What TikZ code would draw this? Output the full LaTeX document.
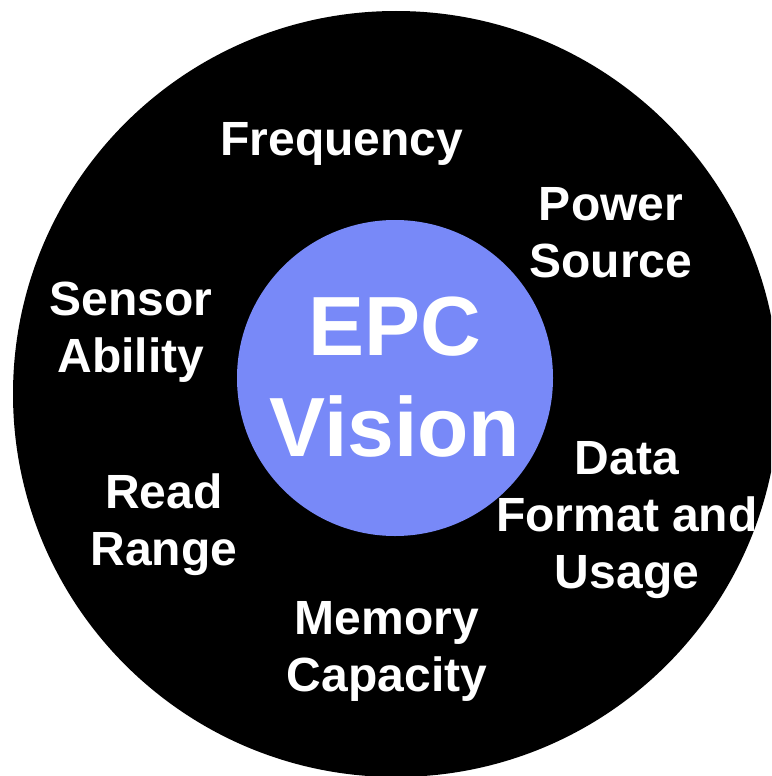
\documentclass[tikz,border=0pt]{standalone}
\usepackage{fontspec}
\setmainfont{Liberation Sans}
\definecolor{epcblue}{RGB}{120,137,248}
\begin{document}
\begin{tikzpicture}[x=1pt,y=-1pt,
  lbl/.style={text=white, font=\bfseries\fontsize{48}{57}\selectfont, align=center, anchor=north, inner sep=0pt},
  bigtxt/.style={text=white, font=\bfseries\fontsize{84}{101}\selectfont, align=center, anchor=north, inner sep=0pt}]
\useasboundingbox (0,0) rectangle (771,776);
\begin{scope}
\clip (0,0) rectangle (771,776);
\fill[black] (396,394) circle (383pt);
\end{scope}
\node[circle, fill=epcblue, minimum size=316pt, inner sep=0pt] (core) at (395,378) {};
\node[bigtxt] (vision) at (395,297) {EPC\\Vision};
\node[lbl] (freq) at (342,122) {Frequency};
\node[lbl] (power) at (611,187) {Power\\Source};
\node[lbl] (sensor) at (131,282) {Sensor\\Ability};
\node[lbl] (read) at (164,474) {Read\\Range};
\node[lbl] (data) at (627,441) {Data\\Format and\\Usage};
\node[lbl] (memory) at (387,601) {Memory\\Capacity};
\end{tikzpicture}
\end{document}
